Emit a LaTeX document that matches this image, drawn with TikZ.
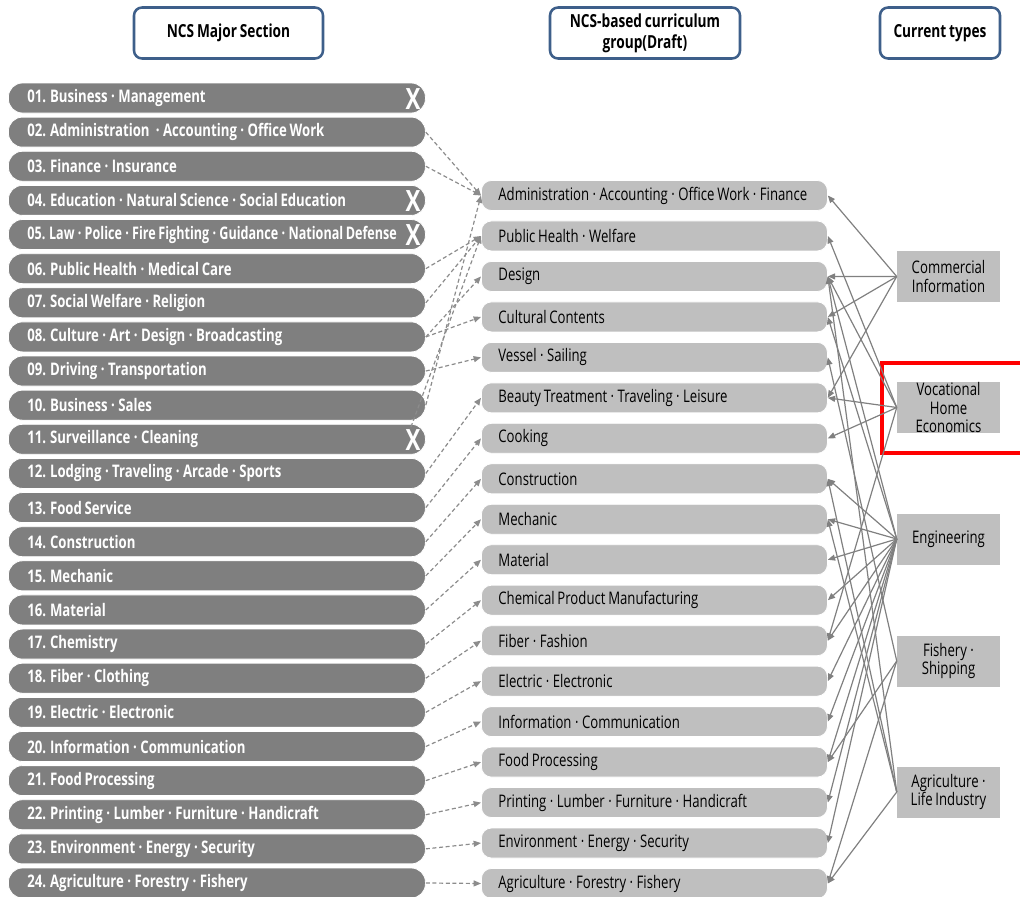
\documentclass[tikz,border=0pt]{standalone}
\usepackage{fontspec}
\setmainfont{Open Sans}[FakeStretch=0.76, WordSpace=0.8]
\usetikzlibrary{arrows.meta}
\newcommand{\sd}{\unskip\hspace{0.2em}·\hspace{0.2em}\ignorespaces}
\definecolor{darkbox}{HTML}{7F7F7F}
\definecolor{lightbox}{HTML}{BFBFBF}
\definecolor{hdrblue}{HTML}{3E5F8A}
\definecolor{linegray}{HTML}{808080}
\definecolor{dashgray}{HTML}{8C8C8C}
\begin{document}
\begin{tikzpicture}[x=0.75pt,y=-0.75pt,
  leftbox/.style={fill=darkbox, draw=white, line width=0.6pt, rounded corners=10.5pt,
    minimum height=22.5pt, minimum width=312.75pt, inner xsep=14.25pt, inner ysep=0pt,
    text=white, font=\fontsize{13}{15}\selectfont\bfseries, anchor=west},
  midbox/.style={fill=lightbox, draw=white, line width=0.6pt, rounded corners=7.5pt,
    minimum height=22.5pt, minimum width=259.5pt, inner xsep=12.75pt, inner ysep=0pt,
    text=black, font=\fontsize{13}{15}\selectfont, anchor=west},
  typebox/.style={fill=lightbox, minimum width=77.25pt, minimum height=38.25pt,
    inner sep=0pt, align=center, font=\fontsize{13}{14}\selectfont},
  hdrbox/.style={draw=hdrblue, fill=white, line width=1.9pt, rounded corners=6pt,
    minimum height=38.25pt, inner sep=0pt, align=center,
    font=\fontsize{13.5}{15.5}\selectfont\bfseries},
  xmark/.style={text=white, inner sep=0pt, font=\fontsize{22}{22}\selectfont\bfseries},
  dasharrow/.style={draw=dashgray, line width=0.9pt, dash pattern=on 3pt off 2pt,
    -{Triangle[length=5.5pt,width=4.5pt]}},
  solidarrow/.style={draw=linegray, line width=0.9pt,
    -{Triangle[length=5.5pt,width=4.5pt]}}
]
\useasboundingbox (0,0) rectangle (1020,896);

% headers
\node[hdrbox, minimum width=141.75pt] (H1) at (228.5,33) {NCS Major Section};
\node[hdrbox, minimum width=142.5pt] (H2) at (645,33) {NCS-based curriculum\\group(Draft)};
\node[hdrbox, minimum width=90pt] (H3) at (940,33) {Current types};

% left boxes
\foreach \i/\t in {
  1/{01. Business \sd Management},
  2/{02. Administration\ \ \sd Accounting \sd Office Work},
  3/{03. Finance \sd Insurance},
  4/{04. Education \sd Natural Science \sd Social Education},
  5/{\scalebox{0.955}[1]{05. Law \sd Police \sd Fire Fighting \sd Guidance \sd National Defense}},
  6/{06. Public Health \sd Medical Care},
  7/{07. Social Welfare \sd Religion},
  8/{08. Culture \sd Art \sd Design \sd Broadcasting},
  9/{09. Driving \sd Transportation},
  10/{10. Business \sd Sales},
  11/{11. Surveillance \sd Cleaning},
  12/{12. Lodging \sd Traveling \sd Arcade \sd Sports},
  13/{13. Food Service},
  14/{14. Construction},
  15/{15. Mechanic},
  16/{16. Material},
  17/{17. Chemistry},
  18/{18. Fiber \sd Clothing},
  19/{19. Electric \sd Electronic},
  20/{20. Information \sd Communication},
  21/{21. Food Processing},
  22/{22. Printing \sd Lumber \sd Furniture \sd Handicraft},
  23/{23. Environment \sd Energy \sd Security},
  24/{24. Agriculture \sd Forestry \sd Fishery}}
  \node[leftbox] (L\i) at (8,{98+34.13*(\i-1)}) {\makebox[284.25pt][l]{\t}};

% X marks
\foreach \i in {1,4,5,11}
  \node[xmark] (X\i) at (413,{99+34.13*(\i-1)}) {X};

% middle boxes
\foreach \i/\t in {
  1/{Administration \sd Accounting \sd Office Work \sd Finance},
  2/{Public Health \sd Welfare},
  3/{Design},
  4/{Cultural Contents},
  5/{Vessel \sd Sailing},
  6/{Beauty Treatment \sd Traveling \sd Leisure},
  7/{Cooking},
  8/{Construction},
  9/{Mechanic},
  10/{Material},
  11/{Chemical Product Manufacturing},
  12/{Fiber \sd Fashion},
  13/{Electric \sd Electronic},
  14/{Information \sd Communication},
  15/{Food Processing},
  16/{Printing \sd Lumber \sd Furniture \sd Handicraft},
  17/{Environment \sd Energy \sd Security},
  18/{Agriculture \sd Forestry \sd Fishery}}
  \node[midbox] (M\i) at (481,{195.5+40.47*(\i-1)}) {\makebox[234pt][l]{\t}};

% current types
\node[typebox] (R1) at (948.5,276.5) {Commercial\\Information};
\node[typebox] (R2) at (948.5,407.5) {Vocational\\Home\\Economics};
\node[typebox] (R3) at (948.5,539) {Engineering};
\node[typebox] (R4) at (948.5,661) {Fishery \sd\\Shipping};
\node[typebox] (R5) at (948.5,792) {Agriculture \sd\\Life Industry};

% red highlight
\draw[red, line width=2.3pt] (882,363) rectangle (1030,453);

% dashed connectors (left -> middle)
\coordinate (L11top) at (411,427);
\foreach \a/\b in {2/1,3/1,6/2,7/2,8/3,8/4,9/5,10/1,12/6,13/7,14/8,15/9,16/10,
  17/11,18/12,19/13,20/14,21/15,22/16,23/17,24/18}
  \draw[dasharrow] (L\a.east) -- (M\b.west);
\draw[dasharrow] (L11top) -- (M2.west);

% solid connectors (types -> middle)
\foreach \r/\m in {1/1,1/3,1/4,1/6,
  2/2,2/3,2/6,2/7,2/12,
  3/3,3/4,3/8,3/9,3/10,3/11,3/12,3/13,3/14,3/15,3/16,3/17,
  4/5,4/15,4/18,
  5/3,5/8,5/9,5/18}
  \draw[solidarrow] (R\r.west) -- (M\m.east);
\end{tikzpicture}
\end{document}
